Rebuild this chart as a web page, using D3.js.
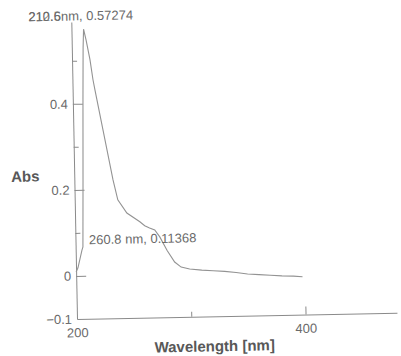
<!DOCTYPE html>
<html>
<head>
<meta charset="utf-8">
<script src="https://cdn.jsdelivr.net/npm/d3@7"></script>
<style>
  body { margin: 0; background: #fff; }
  svg { display: block; }
  text { font-family: "Liberation Sans", Arial, sans-serif; }
</style>
</head>
<body>
<svg id="chart" width="401" height="356"></svg>
<script>
// spectrum
const wavelength = [200, 201.7, 205.5, 206.4, 207.6, 208.9, 209.9, 210.6, 212.6, 215.7, 218, 219.5, 225.9, 233.8, 237.7, 245.4, 256.6, 260.8, 265, 269.5, 273.8, 280, 286.4, 292, 299.4, 310, 320, 330, 340, 350, 360, 370, 380, 390, 398];
const absorbance = [0.009, 0.019, 0.06, 0.067, 0.223, 0.409, 0.53, 0.57274, 0.548, 0.502, 0.455, 0.432, 0.338, 0.222, 0.175, 0.144, 0.123, 0.11368, 0.108, 0.1035, 0.087, 0.055, 0.028, 0.016, 0.011, 0.008, 0.006, 0.004, 0.001, -0.003, -0.005, -0.007, -0.009, -0.01, -0.012];

const xMajor = [200, 400];
const xMinor = [300];
const yMajor = [0.4, 0.2, 0, -0.1];
const yMinor = [0.5, 0.3, 0.1];

const peak = {w: 210.6, a: 0.57274};
const shoulder = {w: 260.8, a: 0.11368};

const svg = d3.select('svg#chart');
// the scan is slightly rotated, so the whole plot is too
const g = svg.append('g').attr('transform', 'translate(77,319) rotate(-1.1)');

const x = d3.scaleLinear().domain([200, 480]).range([0, 320]);
const y = d3.scaleLinear().domain([-0.1, 0.59]).range([0, -297]);

const ink = '#8a8a8a';
const txt = '#6a6a6a';

// y axis, major ticks pointing inward
const yAxis = g.append('g')
  .call(d3.axisLeft(y).tickValues(yMajor).tickSizeInner(-10).tickSizeOuter(0).tickPadding(5)
    .tickFormat(d => d === 0 ? '0' : d3.format('.1f')(d)));
yAxis.selectAll('.tick').filter(d => d === -0.1).select('line').remove();

const yMinorAxis = g.append('g')
  .call(d3.axisLeft(y).tickValues(yMinor).tickSizeInner(-5).tickSizeOuter(0).tickFormat(''));
yMinorAxis.select('.domain').remove();

// x axis
const xAxis = g.append('g')
  .call(d3.axisBottom(x).tickValues(xMajor).tickSizeInner(-8).tickSizeOuter(0).tickPadding(9));
xAxis.selectAll('.tick').filter(d => d === 200).select('line').remove();

const xMinorAxis = g.append('g')
  .call(d3.axisBottom(x).tickValues(xMinor).tickSizeInner(-5).tickSizeOuter(0).tickFormat(''));
xMinorAxis.select('.domain').remove();

g.selectAll('.domain, .tick line').attr('stroke', ink).attr('stroke-width', 1);
g.selectAll('.tick text').attr('fill', txt).attr('font-size', 13).attr('font-family', '"Liberation Sans", Arial, sans-serif');

// spectrum
const line = d3.line()
  .x((d, i) => x(wavelength[i]))
  .y(d => y(d));

g.append('path')
  .datum(absorbance)
  .attr('fill', 'none')
  .attr('stroke', '#939393')
  .attr('stroke-width', 1.1)
  .attr('d', line);

// annotations
g.append('text')
  .attr('x', x(peak.w) - 55).attr('y', y(peak.a) - 9)
  .attr('font-size', 13).attr('fill', txt)
  .text(`${peak.w}nm, ${peak.a}`);
g.append('text')
  .attr('x', x(peak.w) - 55).attr('y', y(peak.a) - 9)
  .attr('font-size', 13).attr('fill', txt).attr('opacity', 0.8)
  .text('212.5');

g.append('text')
  .attr('x', x(shoulder.w) - 56).attr('y', y(shoulder.a) + 17.5)
  .attr('font-size', 13).attr('fill', txt)
  .text(`${shoulder.w} nm, ${shoulder.a}`);

// axis titles
g.append('text')
  .attr('x', -49).attr('y', y(0.233) + 5)
  .attr('text-anchor', 'middle')
  .attr('font-size', 15).attr('font-weight', 'bold').attr('fill', '#585858')
  .text('Abs');

g.append('text')
  .attr('x', x(320)).attr('y', 35)
  .attr('text-anchor', 'middle')
  .attr('font-size', 15).attr('font-weight', 'bold').attr('fill', '#585858')
  .text('Wavelength [nm]');
</script>
</body>
</html>
